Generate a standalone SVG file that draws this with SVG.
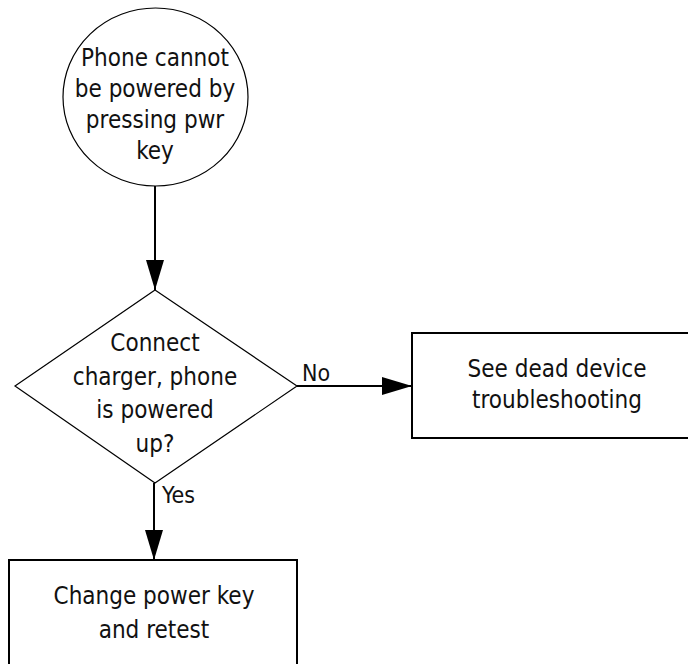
<svg xmlns="http://www.w3.org/2000/svg" width="688" height="664" viewBox="0 0 688 664">
  <style>
    .thin { fill: #fff; stroke: #000; stroke-width: 1.2; }
    .box { fill: #fff; stroke: #000; stroke-width: 2; }
    .edge { fill: none; stroke: #000; stroke-width: 2; }
    text { font-family: "DejaVu Sans Condensed", "DejaVu Sans", sans-serif; font-stretch: condensed; font-size: 24px; fill: #111; }
    .c { text-anchor: middle; }
    .lbl { font-size: 23px; }
  </style>
  <defs>
    <marker id="arrow" viewBox="0 0 30 18" refX="30" refY="9" markerWidth="30" markerHeight="18" markerUnits="userSpaceOnUse" orient="auto">
      <path d="M0,0 L30,9 L0,18 Z" fill="#000"/>
    </marker>
  </defs>

  <g id="connectors">
    <line class="edge" x1="155" y1="186" x2="155" y2="290" marker-end="url(#arrow)"/>
    <line class="edge" x1="297" y1="386" x2="412" y2="386" marker-end="url(#arrow)"/>
    <line class="edge" x1="154" y1="483" x2="154" y2="560" marker-end="url(#arrow)"/>
    <text class="lbl" x="302" y="381">No</text>
    <text class="lbl" x="162" y="503">Yes</text>
  </g>

  <g id="start">
    <ellipse class="thin" cx="155.5" cy="97" rx="92.5" ry="89"/>
    <text class="c" x="155" y="66">Phone cannot</text>
    <text class="c" x="155" y="97">be powered by</text>
    <text class="c" x="155" y="128">pressing pwr</text>
    <text class="c" x="155" y="159">key</text>
  </g>

  <g id="decision">
    <polygon class="thin" points="155,290 297,386 155,483 15,386"/>
    <text class="c" x="155" y="351">Connect</text>
    <text class="c" x="155" y="385">charger, phone</text>
    <text class="c" x="155" y="418">is powered</text>
    <text class="c" x="155" y="452">up?</text>
  </g>

  <g id="dead-device">
    <rect class="box" x="412" y="333" width="290" height="105"/>
    <text class="c" x="557" y="377">See dead device</text>
    <text class="c" x="557" y="408">troubleshooting</text>
  </g>

  <g id="change-key">
    <rect class="box" x="9" y="560" width="288" height="120"/>
    <text class="c" x="154" y="604">Change power key</text>
    <text class="c" x="154" y="638">and retest</text>
  </g>
</svg>
